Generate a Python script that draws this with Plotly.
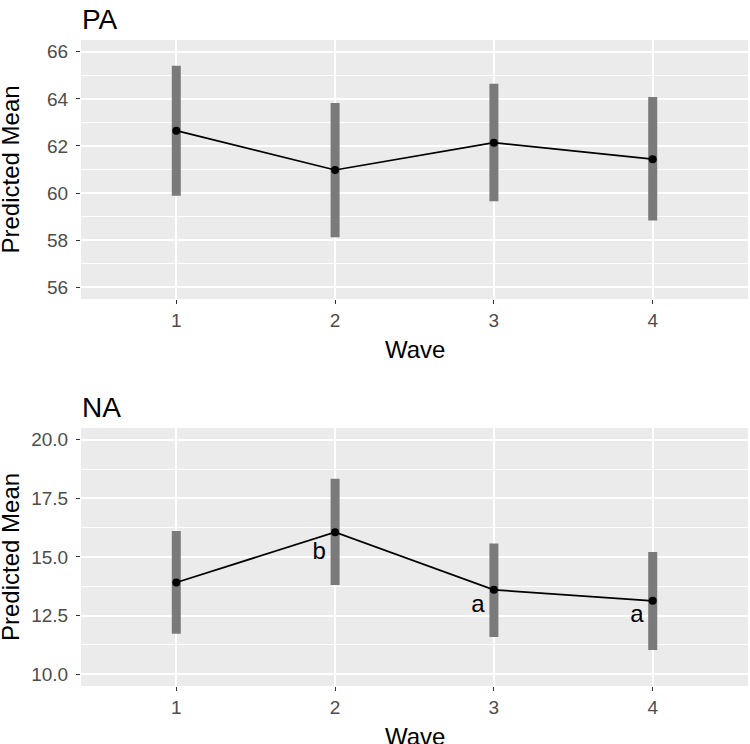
import plotly.graph_objects as go
from plotly.subplots import make_subplots

waves = [1, 2, 3, 4]
wave_labels = ["1", "2", "3", "4"]

pa_mean = [62.65, 60.98, 62.14, 61.44]
pa_lo = [59.89, 58.12, 59.65, 58.84]
pa_hi = [65.41, 63.82, 64.64, 64.08]

na_mean = [13.91, 16.06, 13.60, 13.13]
na_lo = [11.73, 13.81, 11.59, 11.03]
na_hi = [16.11, 18.34, 15.58, 15.21]

na_letters = ["b", "a", "a"]
na_letter_x = [1.9, 2.9, 3.9]
na_letter_y = [15.15, 12.92, 12.5]

pa_ticks = [56, 58, 60, 62, 64, 66]
na_ticks = [10.0, 12.5, 15.0, 17.5, 20.0]
na_tick_text = ["10.0", "12.5", "15.0", "17.5", "20.0"]

FONT = "Liberation Sans, Arial, sans-serif"
BAR_COLOR = "#7a7a7a"
TOP_DOM = [0.599, 1.0]
BOT_DOM = [0.0, 0.3994]

fig = make_subplots(rows=2, cols=1, vertical_spacing=0.2)

for row, mean, lo, hi in [(1, pa_mean, pa_lo, pa_hi), (2, na_mean, na_lo, na_hi)]:
    fig.add_trace(go.Scatter(
        x=waves, y=mean, mode="markers",
        marker=dict(size=1, color="rgba(0,0,0,0)"),
        error_y=dict(type="data", symmetric=False,
                     array=[h - m for h, m in zip(hi, mean)],
                     arrayminus=[m - l for m, l in zip(mean, lo)],
                     thickness=9, width=0, color=BAR_COLOR),
        showlegend=False, hoverinfo="skip"), row=row, col=1)
    fig.add_trace(go.Scatter(
        x=waves, y=mean, mode="lines+markers",
        line=dict(color="black", width=1.7),
        marker=dict(size=8, color="black"),
        showlegend=False), row=row, col=1)

fig.add_trace(go.Scatter(
    x=na_letter_x, y=na_letter_y, mode="text", text=na_letters,
    textfont=dict(family=FONT, size=24, color="black"),
    showlegend=False, hoverinfo="skip"), row=2, col=1)

axis_common = dict(
    showgrid=True, gridcolor="white", gridwidth=1.7,
    ticks="outside", ticklen=4, tickwidth=1.3, tickcolor="#333333",
    tickfont=dict(family=FONT, size=19, color="#4d4d4d"),
    zeroline=False, showline=False, automargin=False,
)

for r in (1, 2):
    fig.update_xaxes(range=[0.4, 4.6], tickvals=waves, ticktext=wave_labels,
                     row=r, col=1, **axis_common)

fig.update_yaxes(range=[55.5, 66.5], tickvals=pa_ticks,
                 minor=dict(dtick=1, tick0=55, showgrid=True, gridcolor="white", gridwidth=0.9, ticks=""),
                 ticklabelstandoff=4,
                 row=1, col=1, **axis_common)
fig.update_yaxes(range=[9.5, 20.5], tickvals=na_ticks, ticktext=na_tick_text,
                 minor=dict(dtick=1.25, tick0=10, showgrid=True, gridcolor="white", gridwidth=0.9, ticks=""),
                 ticklabelstandoff=4,
                 row=2, col=1, **axis_common)

annotations = []
for title, dom in [("PA", TOP_DOM), ("NA", BOT_DOM)]:
    annotations.append(dict(text=title, x=0, y=dom[1], xref="paper", yref="paper",
                            xanchor="left", yanchor="bottom", yshift=3, xshift=-1,
                            showarrow=False, font=dict(family=FONT, size=28, color="black")))
    annotations.append(dict(text="Wave", x=0.5, y=dom[0], xref="paper", yref="paper",
                            xanchor="center", yanchor="top", yshift=-35,
                            showarrow=False, font=dict(family=FONT, size=24, color="black")))
    annotations.append(dict(text="Predicted Mean", x=0, y=(dom[0] + dom[1]) / 2,
                            xref="paper", yref="paper", textangle=-90,
                            xanchor="center", yanchor="middle", xshift=-70,
                            showarrow=False, font=dict(family=FONT, size=24, color="black")))

fig.update_layout(
    width=750, height=744,
    margin=dict(l=81, r=2, t=40, b=58),
    paper_bgcolor="white", plot_bgcolor="#ebebeb",
    font=dict(family=FONT),
    xaxis=dict(domain=[0, 1]),
    yaxis=dict(domain=TOP_DOM),
    yaxis2=dict(domain=BOT_DOM),
    xaxis2=dict(domain=[0, 1]),
    annotations=annotations,
)

fig.write_html("out.html", config={"displayModeBar": False},
               post_script="document.body.style.margin='0';document.body.style.overflow='hidden';")
